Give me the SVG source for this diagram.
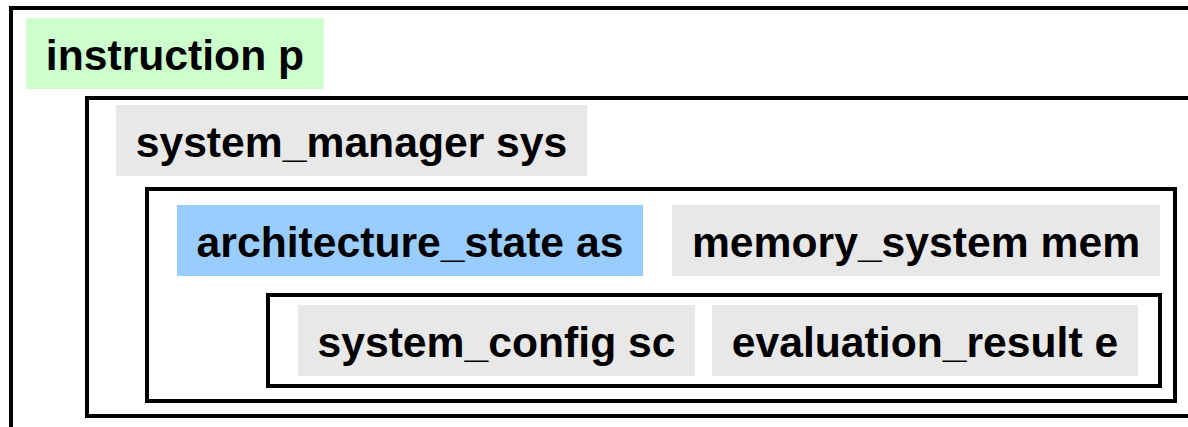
<svg xmlns="http://www.w3.org/2000/svg" width="1188" height="427" viewBox="0 0 1188 427">
<style>
.frame{fill:none;stroke:#000;stroke-width:4}
.lbl{font-family:"Liberation Sans",Arial,sans-serif;font-weight:bold;font-size:42.67px;fill:#000;text-anchor:middle}
.gray{fill:#e8e8e8}
</style>
<rect width="1188" height="427" fill="#fff"/>
<g id="frames">
<rect class="frame" x="11" y="8" width="1250" height="480"/>
<rect class="frame" x="87" y="98" width="1150" height="318"/>
<rect class="frame" x="147" y="189" width="1028" height="212"/>
<rect class="frame" x="268" y="295" width="892" height="91"/>
</g>
<g id="node-p">
<rect x="26" y="18" width="298" height="71" fill="#ccffcc"/>
<text class="lbl" x="175" y="70">instruction p</text>
</g>
<g id="node-sys">
<rect class="gray" x="116" y="105" width="471" height="71"/>
<text class="lbl" x="351.5" y="157">system_manager sys</text>
</g>
<g id="node-as">
<rect x="177" y="205" width="466" height="71" fill="#99ccff"/>
<text class="lbl" x="410" y="257">architecture_state as</text>
</g>
<g id="node-mem">
<rect class="gray" x="672" y="205" width="488" height="71"/>
<text class="lbl" x="916" y="257">memory_system mem</text>
</g>
<g id="node-sc">
<rect class="gray" x="298" y="305" width="397" height="71"/>
<text class="lbl" x="496.5" y="357">system_config sc</text>
</g>
<g id="node-e">
<rect class="gray" x="712" y="305" width="426" height="71"/>
<text class="lbl" x="925" y="357">evaluation_result e</text>
</g>
<g id="connectors"></g>
</svg>
